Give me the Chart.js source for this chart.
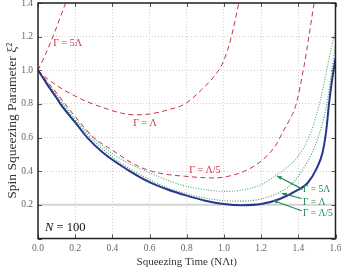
<!DOCTYPE html>
<html>
<head>
<meta charset="utf-8">
<script src="https://cdn.jsdelivr.net/npm/chart.js@4/dist/chart.umd.min.js"></script>
<style>
  html, body { margin: 0; padding: 0; background: #fff; }
  #wrap { width: 341px; height: 270px; }
</style>
</head>
<body>
<div id="wrap"><canvas id="chart"></canvas></div>
<script>
// values (time in N*Lambda*t, xi^2)
const tIdeal = [0, 0.05, 0.1, 0.12, 0.2, 0.265, 0.35, 0.48, 0.6, 0.7, 0.8, 0.9, 1.0, 1.1, 1.2, 1.3, 1.4, 1.45, 1.5, 1.53, 1.55, 1.565, 1.58, 1.6];
const xiIdeal = [1.0, 0.915, 0.835, 0.80, 0.69, 0.60, 0.51, 0.41, 0.335, 0.29, 0.255, 0.225, 0.205, 0.198, 0.205, 0.235, 0.29, 0.33, 0.42, 0.51, 0.64, 0.80, 0.93, 1.07];

const tRed5 = [0, 0.04, 0.08, 0.12, 0.15, 0.17];
const xiRed5 = [1.0, 1.095, 1.2, 1.315, 1.405, 1.47];

const tRed1 = [0, 0.05, 0.1, 0.16, 0.25, 0.345, 0.45, 0.52, 0.6, 0.7, 0.79, 0.88, 0.965, 1.0, 1.04, 1.08, 1.1];
const xiRed1 = [1.0, 0.95, 0.91, 0.87, 0.82, 0.78, 0.745, 0.735, 0.74, 0.765, 0.80, 0.885, 0.99, 1.06, 1.2, 1.4, 1.5];

const tRedFifth = [0, 0.1, 0.2, 0.3, 0.4, 0.52, 0.61, 0.7, 0.79, 0.935, 1.0, 1.11, 1.2, 1.28, 1.31, 1.35, 1.386, 1.43, 1.485, 1.5];
const xiRedFifth = [1.0, 0.865, 0.725, 0.60, 0.525, 0.44, 0.40, 0.38, 0.37, 0.36, 0.365, 0.40, 0.46, 0.556, 0.62, 0.70, 0.79, 1.02, 1.4, 1.5];

const tGreen5 = [0, 0.1, 0.2, 0.3, 0.4, 0.5, 0.6, 0.7, 0.8, 0.9, 1.0, 1.1, 1.2, 1.26, 1.33, 1.4, 1.467, 1.52, 1.575, 1.6];
const xiGreen5 = [1.0, 0.855, 0.71, 0.595, 0.505, 0.44, 0.39, 0.345, 0.31, 0.29, 0.28, 0.288, 0.32, 0.36, 0.415, 0.49, 0.63, 0.83, 1.12, 1.24];

const tGreen1 = [0, 0.1, 0.2, 0.3, 0.4, 0.5, 0.6, 0.7, 0.8, 0.9, 1.0, 1.1, 1.2, 1.3, 1.37, 1.43, 1.47, 1.5, 1.55, 1.6];
const xiGreen1 = [1.0, 0.845, 0.70, 0.58, 0.485, 0.41, 0.35, 0.30, 0.265, 0.24, 0.225, 0.222, 0.235, 0.275, 0.33, 0.42, 0.5, 0.58, 0.78, 1.15];

const tBound = [0, 1.6];
const xiBound = [0.2, 0.2];

const xTicks = [0, 0.2, 0.4, 0.6, 0.8, 1.0, 1.2, 1.4, 1.6];
const yTicks = [0.2, 0.4, 0.6, 0.8, 1.0, 1.2, 1.4];

const SERIF = '"Liberation Serif", "DejaVu Serif", serif';
const RED = '#c8343e';
const GREEN = '#1f8a4c';

function pts(ts, vs) {
  return ts.map((t, i) => ({ x: t, y: vs[i] }));
}

function line(ts, vs, color, width, dash) {
  return {
    data: pts(ts, vs),
    borderColor: color,
    borderWidth: width,
    borderDash: dash,
    pointRadius: 0,
    fill: false,
    cubicInterpolationMode: 'monotone'
  };
}

// frame, inward ticks, arrows and text labels
const extras = {
  id: 'extras',
  afterDatasetsDraw(chart) {
    const { ctx, chartArea: a, scales: { x, y } } = chart;
    ctx.save();

    ctx.strokeStyle = '#555';
    ctx.lineWidth = 1;
    xTicks.forEach(v => {
      const px = Math.round(x.getPixelForValue(v)) + 0.5;
      ctx.beginPath();
      ctx.moveTo(px, a.bottom); ctx.lineTo(px, a.bottom - 4);
      ctx.moveTo(px, a.top); ctx.lineTo(px, a.top + 4);
      ctx.stroke();
    });
    [0].concat(yTicks).forEach(v => {
      const py = Math.round(y.getPixelForValue(v)) + 0.5;
      ctx.beginPath();
      ctx.moveTo(a.left, py); ctx.lineTo(a.left + 4, py);
      ctx.moveTo(a.right, py); ctx.lineTo(a.right - 4, py);
      ctx.stroke();
    });

    ctx.strokeStyle = '#222';
    ctx.lineWidth = 1.5;
    ctx.strokeRect(a.left, a.top, a.right - a.left, a.bottom - a.top);

    // arrows from the green labels to the curves
    const arrows = [
      [1.424, 0.292, 1.286, 0.372],
      [1.418, 0.238, 1.312, 0.268],
      [1.418, 0.165, 1.264, 0.226]
    ];
    ctx.strokeStyle = GREEN;
    ctx.fillStyle = GREEN;
    ctx.lineWidth = 1.2;
    arrows.forEach(([t0, v0, t1, v1]) => {
      const x0 = x.getPixelForValue(t0), y0 = y.getPixelForValue(v0);
      const x1 = x.getPixelForValue(t1), y1 = y.getPixelForValue(v1);
      const ang = Math.atan2(y1 - y0, x1 - x0);
      ctx.beginPath();
      ctx.moveTo(x0, y0); ctx.lineTo(x1, y1);
      ctx.stroke();
      ctx.beginPath();
      ctx.moveTo(x1, y1);
      ctx.lineTo(x1 - 5 * Math.cos(ang - 0.4), y1 - 5 * Math.sin(ang - 0.4));
      ctx.lineTo(x1 - 5 * Math.cos(ang + 0.4), y1 - 5 * Math.sin(ang + 0.4));
      ctx.closePath();
      ctx.fill();
    });

    ctx.textBaseline = 'middle';
    ctx.textAlign = 'left';
    ctx.font = '10px ' + SERIF;
    ctx.fillStyle = RED;
    ctx.fillText('Γ = 5Λ', x.getPixelForValue(0.082), y.getPixelForValue(1.16));
    ctx.fillText('Γ = Λ', x.getPixelForValue(0.512), y.getPixelForValue(0.686));
    ctx.fillText('Γ = Λ/5', x.getPixelForValue(0.813), y.getPixelForValue(0.405));

    ctx.font = '9.5px ' + SERIF;
    ctx.fillStyle = GREEN;
    ctx.fillText('Γ = 5Λ', x.getPixelForValue(1.425), y.getPixelForValue(0.29));
    ctx.fillText('Γ = Λ', x.getPixelForValue(1.425), y.getPixelForValue(0.214));
    ctx.fillText('Γ = Λ/5', x.getPixelForValue(1.425), y.getPixelForValue(0.149));

    // N = 100
    ctx.fillStyle = '#111';
    const nx = x.getPixelForValue(0.038), ny = y.getPixelForValue(0.067);
    ctx.font = 'italic 12.5px ' + SERIF;
    ctx.fillText('N', nx, ny);
    const w = ctx.measureText('N').width;
    ctx.font = '12.5px ' + SERIF;
    ctx.fillText(' = 100', nx + w, ny);

    ctx.restore();
  }
};

new Chart(document.getElementById('chart'), {
  type: 'line',
  data: {
    datasets: [
      line(tIdeal, xiIdeal, '#27358c', 2, []),
      line(tRed5, xiRed5, RED, 1, [5, 3.5]),
      line(tRed1, xiRed1, RED, 1, [5, 3.5]),
      line(tRedFifth, xiRedFifth, RED, 1, [5, 3.5]),
      line(tGreen1, xiGreen1, '#2e9a62', 1.1, [1, 1.6]),
      line(tGreen5, xiGreen5, '#47ad78', 1.1, [1, 1.6]),
      line(tBound, xiBound, '#d4d4d4', 2, [])
    ]
  },
  options: {
    responsive: true,
    maintainAspectRatio: false,
    animation: false,
    events: [],
    layout: { padding: { top: 3, right: 5.5, left: 0, bottom: 0 } },
    plugins: {
      legend: { display: false },
      tooltip: { enabled: false }
    },
    scales: {
      x: {
        type: 'linear',
        min: 0,
        max: 1.6,
        afterBuildTicks: s => { s.ticks = xTicks.map(v => ({ value: v })); },
        afterFit: s => { s.height = 31.5; s.paddingLeft = 0; s.paddingRight = 0; },
        grid: { color: '#c4c4c4', lineWidth: 0.8, drawTicks: false },
        border: { display: false, dash: [1, 2] },
        ticks: {
          padding: 4,
          maxRotation: 0,
          autoSkip: false,
          color: '#666',
          font: { family: SERIF, size: 9.5 },
          callback: v => v.toFixed(1)
        },
        title: {
          display: true,
          text: 'Squeezing Time (NΛt)',
          color: '#333',
          font: { family: SERIF, size: 11 },
          padding: { top: 2, bottom: 1 }
        }
      },
      y: {
        type: 'linear',
        min: 0,
        max: 1.4,
        afterBuildTicks: s => { s.ticks = [0].concat(yTicks).map(v => ({ value: v })); },
        afterFit: s => { s.width = 38; s.paddingTop = 0; s.paddingBottom = 0; },
        grid: { color: '#c4c4c4', lineWidth: 0.8, drawTicks: false },
        border: { display: false, dash: [1, 2] },
        ticks: {
          padding: 5,
          color: '#666',
          font: { family: SERIF, size: 9.5 },
          callback: v => (v === 0 ? '' : v.toFixed(1))
        },
        title: {
          display: true,
          text: 'Spin Squeezing Parameter ξ²',
          color: '#333',
          font: { family: SERIF, size: 13.5 },
          padding: { top: 4, bottom: 0 }
        }
      }
    }
  },
  plugins: [extras]
});
</script>
</body>
</html>
